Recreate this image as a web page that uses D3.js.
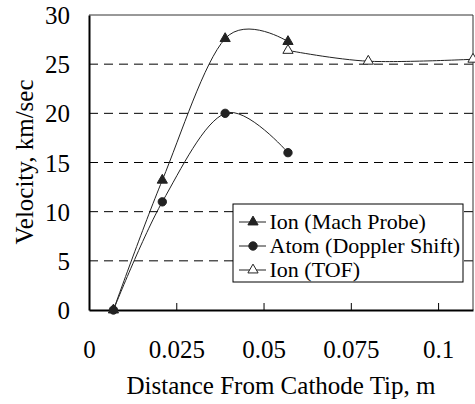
<!DOCTYPE html>
<html>
<head>
<meta charset="utf-8">
<script src="https://cdn.jsdelivr.net/npm/d3@7"></script>
</head>
<body style="margin:0;background:#fff;font-family:'Liberation Serif'">
<svg id="chart" width="475" height="404" font-family="Liberation Serif">
  <text id="xTitle" x="281" y="394" text-anchor="middle" font-family="Liberation Serif" font-size="25">Distance From Cathode Tip, m</text>
  <text id="yTitle" transform="translate(33,162) rotate(-90)" text-anchor="middle" font-family="Liberation Serif" font-size="25">Velocity, km/sec</text>
</svg>
<script>
// Velocity measurements along the plume (distance in m, velocity in km/s)
const machDist   = [0.007, 0.021, 0.039, 0.057];
const machVel    = [0.0, 13.2, 27.6, 27.3];
const dopplerDist = [0.007, 0.021, 0.039, 0.057];
const dopplerVel  = [0.0, 11.0, 20.0, 16.0];
const tofDist    = [0.057, 0.080, 0.110];
const tofVel     = [26.4, 25.3, 25.5];

const xTicks = [0, 0.025, 0.05, 0.075, 0.1];
const xTickLabels = ["0", "0.025", "0.05", "0.075", "0.1"];
const yTicks = [0, 5, 10, 15, 20, 25, 30];

const seriesNames = ["Ion (Mach Probe)", "Atom (Doppler Shift)", "Ion (TOF)"];

const FONT = "Liberation Serif";
const FS = 25;      // axis text
const LEG_FS = 22;  // legend text

const margin = { left: 89, right: 2, top: 15, bottom: 94 };
const W = 475, H = 404;
const svg = d3.select("#chart");

const x = d3.scaleLinear().domain([0, 0.11]).range([margin.left, W - margin.right]);
const y = d3.scaleLinear().domain([0, 30]).range([H - margin.bottom, margin.top]);

const x0 = x.range()[0], x1 = x.range()[1];
const yB = y.range()[0], yT = y.range()[1];

// dashed horizontal gridlines
svg.insert("g", "text").selectAll("line")
  .data(yTicks.filter(v => v > 0 && v < 30))
  .join("line")
  .attr("x1", x0).attr("x2", x1)
  .attr("y1", d => y(d)).attr("y2", d => y(d))
  .attr("stroke", "#000").attr("stroke-width", 1)
  .attr("stroke-dasharray", "9,6");

// plot frame: top and right edges
svg.append("path")
  .attr("d", `M${x0},${yT}H${x1}V${yB}`)
  .attr("fill", "none").attr("stroke", "#333").attr("stroke-width", 1);

// x axis with inward ticks
const xAxis = d3.axisBottom(x).tickValues(xTicks).tickSizeInner(-7).tickSizeOuter(0)
  .tickFormat((d, i) => xTickLabels[i]);
const gx = svg.append("g").attr("transform", `translate(0,${yB})`).call(xAxis)
  .attr("font-family", FONT).attr("font-size", FS);
gx.select(".domain").attr("stroke", "#000").attr("stroke-width", 2);
gx.selectAll(".tick line").attr("stroke", "#000");
gx.selectAll(".tick text").attr("fill", "#000").attr("y", 48).attr("dy", 0);

// y axis
const yAxis = d3.axisLeft(y).tickValues(yTicks).tickSizeInner(0).tickSizeOuter(0);
const gy = svg.append("g").attr("transform", `translate(${x0},0)`).call(yAxis)
  .attr("font-family", FONT).attr("font-size", FS);
gy.select(".domain").attr("stroke", "#000").attr("stroke-width", 2);
gy.selectAll(".tick text").attr("fill", "#000").attr("x", -19).attr("dy", "0.34em");

// smoothed series lines (uniform Catmull-Rom spline)
const line = d3.line().x(d => x(d[0])).y(d => y(d[1])).curve(d3.curveCatmullRom.alpha(0));
const series = [
  { pts: d3.zip(machDist, machVel), marker: "tri", fill: "#222" },
  { pts: d3.zip(dopplerDist, dopplerVel), marker: "circle", fill: "#222" },
  { pts: d3.zip(tofDist, tofVel), marker: "tri", fill: "#fff" }
];

const triPath = d3.symbol().type(d3.symbolTriangle).size(45);
const circPath = d3.symbol().type(d3.symbolCircle).size(55);

series.forEach(s => {
  svg.append("path").attr("d", line(s.pts))
    .attr("fill", "none").attr("stroke", "#222").attr("stroke-width", 1);
});
series.forEach(s => {
  svg.append("g").selectAll("path")
    .data(s.pts).join("path")
    .attr("transform", d => `translate(${x(d[0])},${y(d[1])})`)
    .attr("d", s.marker === "tri" ? triPath() : circPath())
    .attr("fill", s.fill).attr("stroke", "#222").attr("stroke-width", 1);
});

// legend
const lg = svg.append("g").attr("transform", "translate(233,204)");
lg.append("rect").attr("width", 230).attr("height", 78)
  .attr("fill", "#fff").attr("stroke", "#000").attr("stroke-width", 1);
series.forEach((s, i) => {
  const cy = 18 + i * 24;
  lg.append("line").attr("x1", 6).attr("x2", 33).attr("y1", cy).attr("y2", cy)
    .attr("stroke", "#222");
  lg.append("path").attr("transform", `translate(20,${cy})`)
    .attr("d", s.marker === "tri" ? triPath() : circPath())
    .attr("fill", s.fill).attr("stroke", "#222");
  lg.append("text").attr("x", 36.5).attr("y", cy).attr("dy", "0.33em")
    .attr("font-family", FONT).attr("font-size", LEG_FS).text(seriesNames[i]);
});
</script>
</body>
</html>
